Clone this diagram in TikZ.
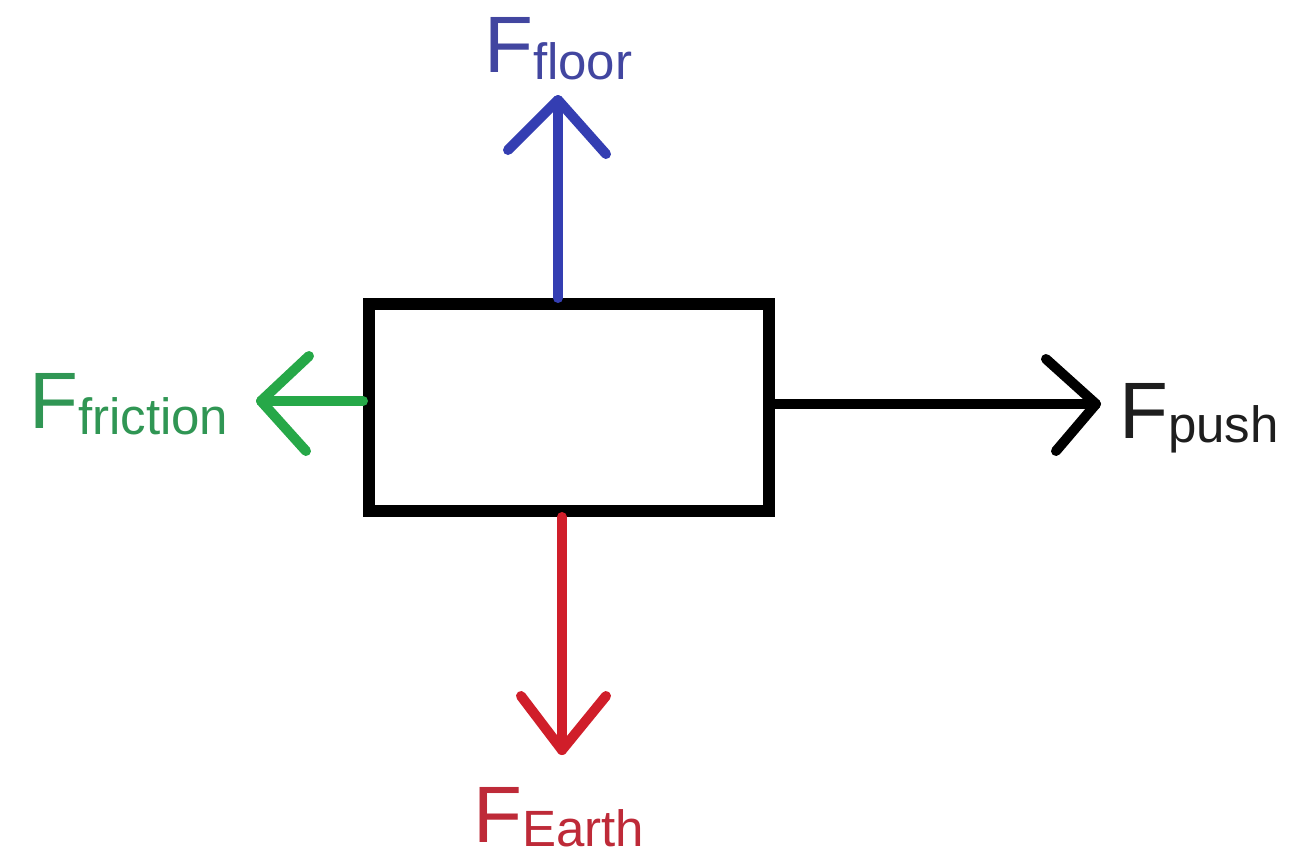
\documentclass[tikz,border=0pt]{standalone}
\usepackage{fontspec}
\setmainfont{Liberation Sans}
\definecolor{fblue}{RGB}{52,62,178}
\definecolor{fgreen}{RGB}{38,168,72}
\definecolor{fred}{RGB}{208,30,42}
\definecolor{tblue}{RGB}{66,70,160}
\definecolor{tgreen}{RGB}{48,150,84}
\definecolor{tred}{RGB}{190,42,56}
\definecolor{tblack}{RGB}{30,30,30}
\newcommand{\flabel}[2]{{\fontsize{80}{80}\selectfont F}\raisebox{#2}[\height][0pt]{\fontsize{51}{51}\selectfont #1}}
\tikzset{
  force/.style={line width=10pt, line cap=round, line join=round},
  lbl/.style={anchor=base west, inner sep=0pt},
  body/.style={draw=black, line width=12pt, fill=white, minimum width=400pt, minimum height=207pt, inner sep=0pt}
}
\begin{document}
\begin{tikzpicture}[x={(1pt,0)}, y={(0,-1pt)}]
\useasboundingbox (0,0) rectangle (1294,852);
\fill[white] (0,0) rectangle (1294,852);
\node[body] (box) at (569,407.5) {};
% tips and arms
\coordinate (tU) at (558,100); \coordinate (uL) at (508,150); \coordinate (uR) at (606,154);
\coordinate (tL) at (261,401); \coordinate (lT) at (309,356); \coordinate (lB) at (306,451);
\coordinate (tR) at (1096,404); \coordinate (rT) at (1046,359); \coordinate (rB) at (1056,451);
\coordinate (tD) at (562,750); \coordinate (dL) at (521,696); \coordinate (dR) at (606,696);
% floor (blue)
\draw[force, fblue] (box.north -| tU) -- (tU);
\draw[force, fblue] (uL) -- (tU) -- (uR);
% friction (green)
\draw[force, fgreen] (box.west |- tL) -- (tL);
\draw[force, fgreen] (lT) -- (tL) -- (lB);
% push (black)
\draw[force, black] (box.east |- tR) -- (tR);
\draw[force, black] (rT) -- (tR) -- (rB);
% earth (red)
\draw[force, fred] (box.south -| tD) -- (tD);
\draw[force, fred] (dL) -- (tD) -- (dR);
% labels
\node[lbl, text=tblue] (lfloor) at (484,72) {\flabel{floor}{-7pt}};
\node[lbl, text=tgreen] (lfric) at (29,428) {\flabel{friction}{-6pt}};
\node[lbl, text=tblack] (lpush) at (1119,438) {\flabel{push}{-4pt}};
\node[lbl, text=tred] (learth) at (473,842) {\flabel{Earth}{-4pt}};
\end{tikzpicture}
\end{document}
